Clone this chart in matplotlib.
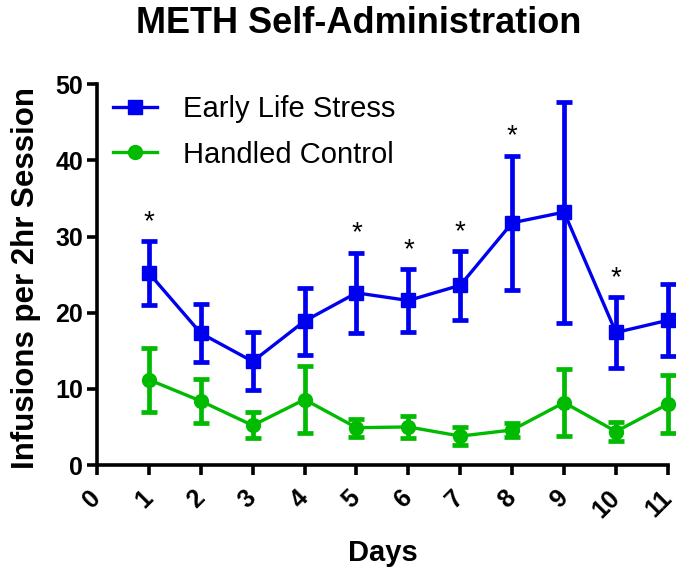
import matplotlib
matplotlib.use("Agg")
import matplotlib.pyplot as plt
from matplotlib.lines import Line2D

plt.rcParams["font.family"] = ["Liberation Sans", "DejaVu Sans"]

days = [1, 2, 3, 4, 5, 6, 7, 8, 9, 10, 11]
els_mean = [25.2, 17.3, 13.6, 18.9, 22.6, 21.6, 23.6, 31.8, 33.2, 17.4, 19.0]
els_sem = [4.2, 3.8, 3.8, 4.4, 5.3, 4.1, 4.5, 8.8, 14.5, 4.6, 4.7]
hc_mean = [11.2, 8.4, 5.2, 8.6, 4.9, 5.0, 3.8, 4.6, 8.2, 4.4, 8.0]
hc_sem = [4.2, 2.9, 1.7, 4.4, 1.2, 1.4, 1.2, 0.9, 4.4, 1.2, 3.8]
star_days = [1, 5, 6, 7, 8, 10]
xticks = list(range(0, 12))
yticks = [0, 10, 20, 30, 40, 50]

BLUE = "#0000F0"
GREEN = "#00BB00"

fig = plt.figure(figsize=(6.76, 5.71), dpi=100)
ax = fig.add_axes([0.1435, 0.1856, 0.8445, 0.667])

ax.errorbar(days, els_mean, yerr=els_sem, color=BLUE, marker="s", markersize=10,
            linewidth=2.4, elinewidth=3.4, capsize=6, capthick=3.4,
            clip_on=False, zorder=3)
ax.errorbar(days, hc_mean, yerr=hc_sem, color=GREEN, marker="o", markersize=10,
            linewidth=2.4, elinewidth=3.4, capsize=6, capthick=3.4,
            clip_on=False, zorder=3)

# significance stars above the ELS error bars
for d in star_days:
    i = days.index(d)
    ax.text(d, els_mean[i] + els_sem[i] + 0.8, "*", ha="center", va="bottom",
            fontsize=20)

ax.set_xlim(0, 11)
ax.set_ylim(0, 50)
ax.set_xticks(xticks)
ax.set_yticks(yticks)
ax.set_xticklabels([str(t) for t in xticks], rotation=45, ha="right", va="center",
                   rotation_mode="anchor", fontsize=18, fontweight="bold")
ax.set_yticklabels([str(t) for t in yticks], fontsize=18, fontweight="bold")

for s in ["top", "right"]:
    ax.spines[s].set_visible(False)
for s in ["left", "bottom"]:
    ax.spines[s].set_linewidth(2.6)
ax.tick_params(axis="both", direction="out", length=7, width=2.6, pad=3)
ax.tick_params(axis="x", pad=14)

ax.set_xlabel("Days", fontsize=21, fontweight="bold", labelpad=12)
ax.set_ylabel("Infusions per 2hr Session", fontsize=22.5, fontweight="bold")
ax.yaxis.set_label_coords(-0.098, 0.49)
fig.suptitle("METH Self-Administration", fontsize=26, fontweight="bold",
             x=0.531, y=0.99)

handles = [
    Line2D([], [], color=BLUE, marker="s", markersize=10, linewidth=2.4),
    Line2D([], [], color=GREEN, marker="o", markersize=10, linewidth=2.4),
]
ax.legend(handles, ["Early Life Stress", "Handled Control"], loc="upper left",
          bbox_to_anchor=(-0.018, 1.04), frameon=False, fontsize=21,
          handlelength=1.5, handletextpad=0.9, labelspacing=0.6)

fig.savefig("out.png", dpi=100)
